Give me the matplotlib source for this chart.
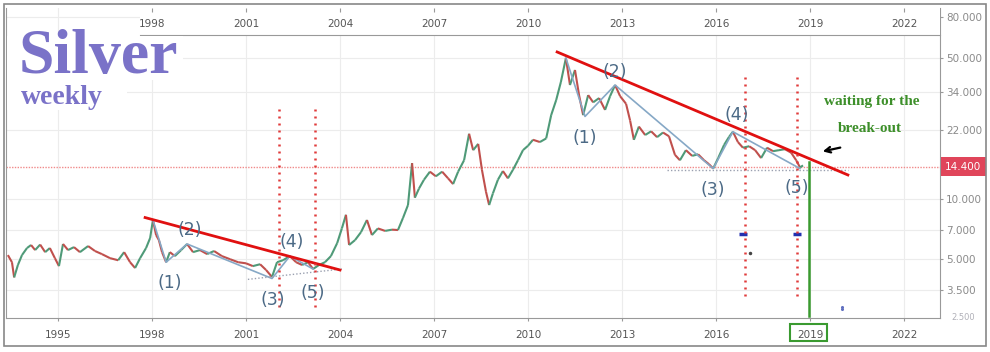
import matplotlib
matplotlib.use("Agg")
import matplotlib.pyplot as plt
import numpy as np
from matplotlib.collections import LineCollection
from matplotlib.patches import Rectangle
from matplotlib.ticker import FixedLocator, FuncFormatter, NullLocator

# weekly silver closes (year, USD/oz)
dates = [
    1993.40, 1993.53, 1993.60, 1993.72, 1993.85, 1994.01, 1994.14, 1994.27, 1994.43, 1994.59,
    1994.74, 1994.90, 1995.03, 1995.16, 1995.32, 1995.51, 1995.70, 1995.96, 1996.18, 1996.40,
    1996.66, 1996.92, 1997.11, 1997.30, 1997.46, 1997.62, 1997.81, 1997.94, 1998.03, 1998.13,
    1998.22, 1998.32, 1998.45, 1998.57, 1998.73, 1998.93, 1999.12, 1999.31, 1999.53, 1999.76,
    1999.98, 2000.23, 2000.49, 2000.75, 2001.00, 2001.22, 2001.45, 2001.64, 2001.83, 2001.99,
    2002.18, 2002.40, 2002.60, 2002.79, 2002.98, 2003.14, 2003.33, 2003.52, 2003.71, 2003.91,
    2004.06, 2004.19, 2004.29, 2004.48, 2004.67, 2004.86, 2005.02, 2005.21, 2005.44, 2005.66,
    2005.85, 2006.01, 2006.17, 2006.30, 2006.39, 2006.52, 2006.68, 2006.87, 2007.06, 2007.26,
    2007.45, 2007.61, 2007.77, 2007.96, 2008.12, 2008.25, 2008.41, 2008.53, 2008.66, 2008.76,
    2008.88, 2009.04, 2009.20, 2009.36, 2009.52, 2009.68, 2009.84, 2010.00, 2010.16, 2010.38,
    2010.58, 2010.74, 2010.90, 2011.05, 2011.21, 2011.34, 2011.50, 2011.63, 2011.76, 2011.92,
    2012.08, 2012.27, 2012.46, 2012.62, 2012.78, 2012.94, 2013.13, 2013.26, 2013.38, 2013.54,
    2013.74, 2013.93, 2014.12, 2014.31, 2014.50, 2014.69, 2014.85, 2015.04, 2015.24, 2015.43,
    2015.62, 2015.78, 2015.91, 2016.07, 2016.26, 2016.42, 2016.54, 2016.70, 2016.86, 2017.06,
    2017.25, 2017.44, 2017.63, 2017.82, 2018.01, 2018.20, 2018.40, 2018.56, 2018.68, 2018.78,
]
prices = [
    5.23, 4.82, 4.05, 4.67, 5.23, 5.67, 5.87, 5.54, 5.90, 5.41,
    5.67, 5.05, 4.61, 5.94, 5.54, 5.73, 5.41, 5.80, 5.48, 5.29,
    5.05, 4.93, 5.41, 4.82, 4.51, 5.05, 5.67, 6.36, 7.82, 6.58,
    6.21, 5.41, 4.82, 5.41, 5.17, 5.54, 5.94, 5.41, 5.54, 5.29,
    5.48, 5.17, 4.99, 4.82, 4.76, 4.61, 4.71, 4.41, 4.07, 4.82,
    4.93, 5.17, 4.82, 4.67, 4.82, 4.46, 4.67, 4.82, 5.17, 6.00,
    7.10, 8.30, 5.87, 6.21, 6.80, 7.82, 6.58, 7.10, 6.90, 7.00,
    6.97, 8.00, 9.28, 15.0, 10.1, 11.2, 12.4, 13.6, 12.9, 13.6,
    12.6, 11.8, 13.6, 15.5, 21.0, 17.4, 18.7, 13.9, 10.8, 9.28,
    10.6, 12.4, 13.7, 12.6, 13.9, 15.5, 17.4, 18.3, 19.6, 19.1,
    19.9, 26.0, 30.9, 38.0, 50.0, 36.7, 43.6, 32.7, 26.0, 32.7,
    30.1, 31.6, 27.6, 32.3, 36.7, 32.3, 29.6, 24.4, 19.6, 22.8,
    20.7, 21.6, 20.2, 21.3, 20.4, 16.5, 15.5, 17.4, 16.3, 16.6,
    15.5, 14.8, 14.1, 15.9, 18.5, 20.3, 21.5, 19.1, 17.9, 18.2,
    17.4, 15.9, 17.9, 17.2, 17.4, 17.6, 16.9, 15.5, 14.3, 14.6,
]

bottom_years = [1995, 1998, 2001, 2004, 2007, 2010, 2013, 2016, 2019, 2022]
top_years = [1998, 2001, 2004, 2007, 2010, 2013, 2016, 2019, 2022]
price_ticks = [3.5, 5, 7, 10, 22, 34, 50, 80]
last_price = 14.4

# Elliott-wave annotations (year, price)
wave_a_t = [1998.03, 1998.45, 1999.12, 2001.83, 2002.40, 2003.14]
wave_a_p = [7.82, 4.82, 5.94, 4.00, 5.17, 4.46]
wave_b_t = [2011.21, 2011.82, 2012.78, 2015.91, 2016.54, 2018.68]
wave_b_p = [50.0, 25.6, 36.7, 14.1, 21.5, 14.1]
wave_labels = ["(1)", "(2)", "(3)", "(4)", "(5)"]
label_a_t = [1998.57, 1999.21, 2001.86, 2002.47, 2003.14]
label_a_p = [3.80, 6.97, 3.13, 6.08, 3.39]
label_b_t = [2011.82, 2012.78, 2015.91, 2016.67, 2018.59]
label_b_p = [19.97, 42.6, 11.0, 26.0, 11.3]

trend_a_t, trend_a_p = [1997.78, 2004.0], [8.04, 4.41]
trend_b_t, trend_b_p = [2010.93, 2020.21], [53.6, 13.1]
support_a_t, support_a_p = [2001.06, 2004.06], [3.96, 4.46]
support_b_t, support_b_p = [2014.44, 2020.21], [13.9, 13.9]
vline_a_t, vline_a_p = [2002.05, 2003.20], (2.89, 28.5)
vline_b_t, vline_b_p = [2016.93, 2018.59], (3.27, 40.2)
breakout_t, breakout_p = 2018.97, (2.59, 15.2)

W, H = 990, 352


def fbox(x0, y0, x1, y1):
    return [x0 / W, 1 - y1 / H, (x1 - x0) / W, (y1 - y0) / H]


def fpt(x, y):
    return (x / W, 1 - y / H)


def white_rect(x0, y0, x1, y1):
    fig.patches.append(Rectangle(fpt(x0, y1), (x1 - x0) / W, (y1 - y0) / H,
                                 transform=fig.transFigure, facecolor="white",
                                 edgecolor="none"))


fig = plt.figure(figsize=(W / 100, H / 100), dpi=100)
fig.patch.set_facecolor("white")

ax = fig.add_axes(fbox(6, 8, 940, 318))
ax.set_yscale("log")
ax.set_xlim(1993.34, 2023.15)
ax.set_ylim(2.544, 88.7)

ax.yaxis.set_major_locator(FixedLocator(price_ticks))
ax.yaxis.set_minor_locator(NullLocator())
ax.yaxis.set_major_formatter(FuncFormatter(lambda v, _: f"{v:.3f}"))
ax.yaxis.tick_right()
ax.tick_params(axis="y", which="major", direction="out", length=2.5, color="#999",
               labelsize=7.5, labelcolor="#8a8a8a", pad=2)
ax.set_xticks(bottom_years)
ax.tick_params(axis="x", direction="out", length=2.5, color="#999",
               labelsize=7.5, labelcolor="#555", pad=6)
ax.grid(True, color="#ececec", lw=0.8)
ax.set_axisbelow(True)
for side in ["left", "bottom", "right"]:
    ax.spines[side].set_color("#999")
ax.spines["top"].set_visible(False)

# price path, coloured like candles
t = np.array(dates)
p = np.array(prices)
segs = np.stack([np.column_stack([t[:-1], p[:-1]]), np.column_stack([t[1:], p[1:]])], axis=1)
cols = np.where(p[1:] >= p[:-1], "#4f9a78", "#c0504d")
ax.add_collection(LineCollection(segs, colors=cols, linewidths=1.5, zorder=3))

ax.axhline(last_price, color="#f08a8a", lw=1, ls=(0, (1, 1)), zorder=2)

ax.plot(wave_a_t, wave_a_p, color="#86a8c6", lw=1.2, zorder=4)
ax.plot(wave_b_t, wave_b_p, color="#86a8c6", lw=1.2, zorder=4)
ax.plot(support_a_t, support_a_p, color="#9aa0b0", lw=1, ls=(0, (1, 1.5)), zorder=4)
ax.plot(support_b_t, support_b_p, color="#9aa0b0", lw=1, ls=(0, (1, 1.5)), zorder=4)
ax.plot(trend_a_t, trend_a_p, color="#e01010", lw=2, zorder=5)
ax.plot(trend_b_t, trend_b_p, color="#e01010", lw=2, zorder=5)

for x in vline_a_t:
    ax.plot([x, x], vline_a_p, color="#e03a3a", lw=1.8, ls=(0, (0.8, 2)), zorder=5)
for x in vline_b_t:
    ax.plot([x, x], vline_b_p, color="#e03a3a", lw=1.8, ls=(0, (0.8, 2)), zorder=5)
ax.plot([breakout_t, breakout_t], breakout_p, color="#3a9a30", lw=1.8, zorder=6)

# small stray marks
ax.plot([2016.86, 2018.59], [6.66, 6.66], ls="none", marker="_", ms=6, mew=2.5, color="#2230b0")
ax.plot([2017.09], [5.35], ls="none", marker="o", ms=1.5, color="#444")
ax.plot([2020.02, 2020.02], [2.9, 2.82], ls="none", marker="o", ms=1.2, color="#6070c0")

for lab, x, y in zip(wave_labels, label_a_t, label_a_p):
    ax.text(x, y, lab, ha="center", va="center", fontsize=12.5, color="#4c6a86", zorder=7)
for lab, x, y in zip(wave_labels, label_b_t, label_b_p):
    ax.text(x, y, lab, ha="center", va="center", fontsize=12.5, color="#4c6a86", zorder=7)

# top date strip
ax_top = fig.add_axes(fbox(140, 8, 940, 35))
ax_top.set_xlim(1997.62, 2023.15)
ax_top.set_ylim(0, 1)
ax_top.set_facecolor("white")
ax_top.set_yticks([])
ax_top.set_xticks(top_years)
ax_top.tick_params(axis="x", top=True, bottom=False, labelbottom=False,
                   direction="in", length=3, color="#999")
for side in ["left", "top", "right"]:
    ax_top.spines[side].set_visible(False)
ax_top.spines["bottom"].set_color("#999")
for yr in top_years:
    ax_top.text(yr, 0.42, str(yr), ha="center", va="center", fontsize=7.5, color="#555")

# blank area behind the pasted title
white_rect(7, 36, 183, 80)
white_rect(7, 80, 127, 110)

# last price tag
fig.patches.append(Rectangle(fpt(941, 176), 45 / W, 19 / H, transform=fig.transFigure,
                             facecolor="#e0455a", edgecolor="none"))
fig.text(*fpt(963, 166.5), f"{last_price:.3f}", ha="center", va="center", fontsize=7.5, color="white")
fig.text(*fpt(963, 318), "2.500", ha="center", va="center", fontsize=6, color="#b0b0b8")

# outer frame and highlighted year
fig.patches.append(Rectangle(fpt(4, 346), 982 / W, 342 / H, transform=fig.transFigure,
                             fill=False, edgecolor="#888", lw=1.2))
fig.patches.append(Rectangle(fpt(790, 341), 37 / W, 17 / H, transform=fig.transFigure,
                             fill=False, edgecolor="#3a9a30", lw=1.5))

# title
fig.text(*fpt(19, 58), "Silver", ha="left", va="center", fontsize=46, fontweight="bold",
         family="Liberation Serif", color="#7a72c8")
fig.text(*fpt(21, 97), "weekly", ha="left", va="center", fontsize=20, fontweight="bold",
         family="Liberation Serif", color="#7a72c8")

fig.text(*fpt(872, 102), "waiting for the", ha="center", va="center", fontsize=11,
         fontweight="bold", family="Liberation Serif", color="#3d8f2a")
fig.text(*fpt(870, 128), "break-out", ha="center", va="center", fontsize=11,
         fontweight="bold", family="Liberation Serif", color="#3d8f2a")
fig.add_artist(plt.Annotation("", xy=fpt(820, 152), xytext=fpt(843, 147),
                              xycoords="figure fraction", textcoords="figure fraction",
                              arrowprops=dict(arrowstyle="->", color="black", lw=1.6)))

fig.savefig("out.png", dpi=100)
